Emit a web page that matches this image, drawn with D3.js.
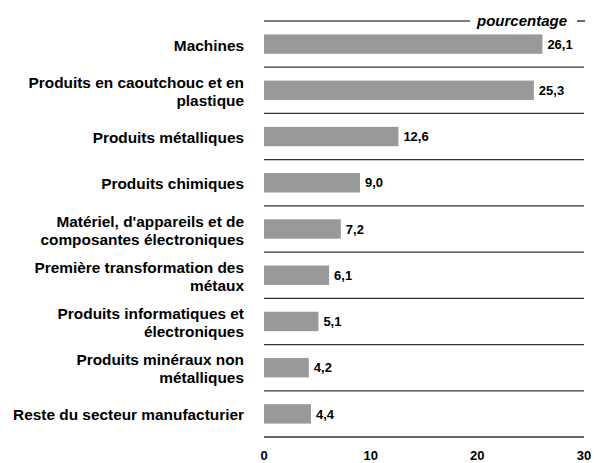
<!DOCTYPE html>
<html>
<head>
<meta charset="utf-8">
<script src="https://cdn.jsdelivr.net/npm/d3@7"></script>
<style>
  body { margin: 0; background: #fff; }
  svg { font-family: "Liberation Sans", Arial, sans-serif; }
</style>
</head>
<body>
<div id="chart"></div>
<script>
var categories = [
    ["Machines"],
    ["Produits en caoutchouc et en", "plastique"],
    ["Produits métalliques"],
    ["Produits chimiques"],
    ["Matériel, d'appareils et de", "composantes électroniques"],
    ["Première transformation des", "métaux"],
    ["Produits informatiques et", "électroniques"],
    ["Produits minéraux non", "métalliques"],
    ["Reste du secteur manufacturier"]
];
var values = [26.1, 25.3, 12.6, 9.0, 7.2, 6.1, 5.1, 4.2, 4.4];
var ticks = [0, 10, 20, 30];
var unitLabel = "pourcentage";

var w = 594;
var h = 463;
// note: "top" is a reserved window property, so use plotTop etc.
var plotLeft = 264, plotRight = 584, plotTop = 21, plotBottom = 437;

var svg = d3.select("#chart")
            .append("svg")
            .attr("width", w)
            .attr("height", h);

var x = d3.scaleLinear().domain([0, 30]).range([plotLeft, plotRight]);
var y = d3.scaleBand()
          .domain(d3.range(values.length))
          .range([plotTop, plotBottom])
          .paddingInner(0.58)
          .paddingOuter(0.29);

var step = y.step();

// separator lines between rows
var seps = d3.range(1, values.length + 1);
svg.selectAll("line.sep")
   .data(seps)
   .enter()
   .append("line")
   .attr("class", "sep")
   .attr("x1", plotLeft)
   .attr("x2", plotRight)
   .attr("y1", function(d) { return plotTop + d * step; })
   .attr("y2", function(d) { return plotTop + d * step; })
   .attr("stroke", "#333")
   .attr("stroke-width", 1.3);

// top line with unit label
svg.append("line")
   .attr("x1", plotLeft).attr("x2", 470)
   .attr("y1", plotTop).attr("y2", plotTop)
   .attr("stroke", "#000").attr("stroke-width", 1.2);
svg.append("text")
   .attr("x", 522).attr("y", plotTop + 5)
   .attr("text-anchor", "middle")
   .style("font-size", "15px")
   .style("font-weight", "bold")
   .style("font-style", "italic")
   .text(unitLabel);
svg.append("line")
   .attr("x1", 577).attr("x2", 585)
   .attr("y1", plotTop).attr("y2", plotTop)
   .attr("stroke", "#000").attr("stroke-width", 1.2);

// bars
svg.selectAll("rect")
   .data(values)
   .enter()
   .append("rect")
   .attr("x", x(0))
   .attr("y", function(d, i) { return y(i); })
   .attr("width", function(d) { return x(d) - x(0); })
   .attr("height", y.bandwidth())
   .attr("fill", "#999999");

// value labels
svg.selectAll("text.val")
   .data(values)
   .enter()
   .append("text")
   .attr("class", "val")
   .attr("x", function(d) { return x(d) + 5; })
   .attr("y", function(d, i) { return y(i) + y.bandwidth() / 2; })
   .attr("dy", "0.36em")
   .style("font-size", "13px")
   .style("font-weight", "bold")
   .text(function(d) { return d3.format(".1f")(d).replace(".", ","); });

// category labels
var labels = svg.selectAll("text.cat")
   .data(categories)
   .enter()
   .append("text")
   .attr("class", "cat")
   .attr("text-anchor", "end")
   .style("font-size", "15.4px")
   .style("font-weight", "bold")
   .attr("transform", function(d, i) {
        return "translate(244," + (plotTop + (i + 0.5) * step + 1) + ")";
   });

labels.selectAll("tspan")
   .data(function(d) { return d; })
   .enter()
   .append("tspan")
   .attr("x", 0)
   .attr("y", function(d, j, nodes) {
        var n = nodes.length;
        return (j - (n - 1) / 2) * 18;
   })
   .attr("dy", "0.36em")
   .text(function(d) { return d; });

// x axis tick labels
svg.selectAll("text.tick")
   .data(ticks)
   .enter()
   .append("text")
   .attr("class", "tick")
   .attr("x", function(d) { return x(d); })
   .attr("y", 460)
   .attr("text-anchor", "middle")
   .style("font-size", "13px")
   .style("font-weight", "bold")
   .text(function(d) { return d; });
</script>
</body>
</html>
